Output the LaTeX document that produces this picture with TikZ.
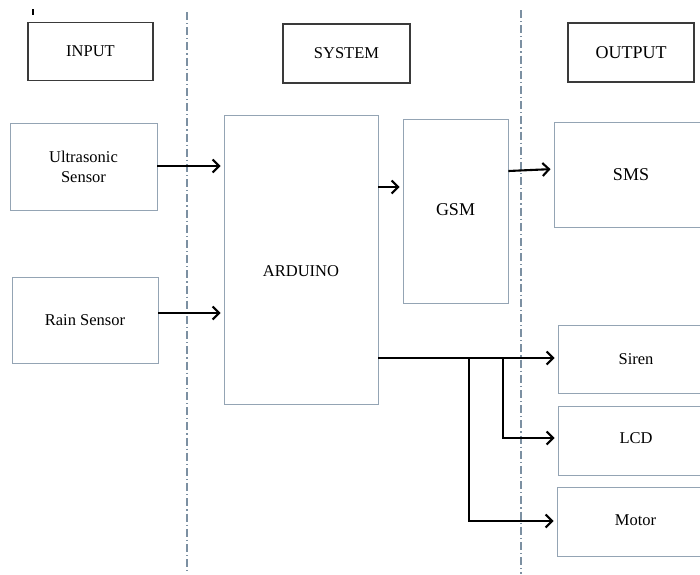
\documentclass[tikz,border=0pt]{standalone}
\usepackage{fontspec}
\setmainfont{Liberation Serif}
\usetikzlibrary{arrows.meta}
\definecolor{boxblue}{HTML}{94A4B4}
\definecolor{boxdark}{HTML}{3A3A3A}
\definecolor{sepcol}{HTML}{7C90A2}
\tikzset{
  hdrbox/.style={draw=boxdark, line width=1.2pt, inner sep=0pt, align=center, font=\fontsize{16.5}{19}\selectfont},
  blkbox/.style={draw=boxblue, line width=0.9pt, inner sep=0pt, align=center, font=\fontsize{16.5}{20}\selectfont},
  bigtext/.style={font=\fontsize{18}{20}\selectfont},
  arr/.style={line width=2.1pt, -{Straight Barb[length=6.5pt,width=13pt,line width=2.1pt]}},
  sep/.style={draw=sepcol, line width=1.2pt, dash pattern=on 8pt off 3pt on 1.2pt off 3pt}
}
\begin{document}
\begin{tikzpicture}[x=1pt,y=-1pt]
\useasboundingbox (0,0) rectangle (700,574);
\fill[white] (0,0) rectangle (700,574);
% separators
\draw[sep] (187,12) -- (187,574);
\draw[sep] (521,10) -- (521,574);
% stray mark
\draw[line width=1.4pt] (33,9) -- (33,15);
% header boxes
\node[hdrbox, minimum width=125pt, minimum height=58pt] (input) at (90.5,51.5) {INPUT};
\node[hdrbox, minimum width=127pt, minimum height=59pt] (system) at (346.5,53.5) {SYSTEM};
\node[hdrbox, bigtext, minimum width=126pt, minimum height=59pt] (output) at (631,52.5) {OUTPUT};
% blocks
\node[blkbox, minimum width=147pt, minimum height=87pt] (ultra) at (83.5,166.5) {Ultrasonic\\Sensor};
\node[blkbox, minimum width=146pt, minimum height=86pt] (rain) at (85,320) {Rain Sensor};
\node[blkbox, minimum width=154pt, minimum height=289pt,
  label={[font=\fontsize{16.5}{19}\selectfont, yshift=-12pt]center:ARDUINO}] (arduino) at (301,259.5) {};
\node[blkbox, bigtext, minimum width=105pt, minimum height=184pt] (gsm) at (455.5,211) {\raisebox{3pt}{GSM}};
\node[blkbox, bigtext, minimum width=154pt, minimum height=105pt] (sms) at (631,174.5) {\raisebox{-4pt}{SMS}};
\node[blkbox, minimum width=156pt, minimum height=68pt] (siren) at (636,359) {Siren};
\node[blkbox, minimum width=156pt, minimum height=69pt] (lcd) at (636,440.5) {\raisebox{4pt}{LCD}};
\node[blkbox, minimum width=157pt, minimum height=69pt] (motor) at (635.5,521.5) {\raisebox{2pt}{Motor}};
% junction points
\coordinate (j1) at (469,358);
\coordinate (j2) at (503,358);
% connectors
\draw[arr, shorten >=3pt] (ultra.east |- 0,166) -- (arduino.west |- 0,166);
\draw[arr, shorten >=3pt] (rain.east |- 0,313) -- (arduino.west |- 0,313);
\draw[arr, shorten >=3pt] (arduino.east |- 0,187) -- (gsm.west |- 0,187);
\draw[arr, shorten >=3pt] (gsm.east |- 0,171) -- (sms.west |- 0,169);
\draw[arr, shorten >=3pt] (arduino.east |- 0,358) -- (siren.west |- 0,358);
\draw[arr, shorten >=3pt] (j2) |- (lcd.west |- 0,438);
\draw[arr, shorten >=3pt] (j1) |- (motor.west |- 0,521);
\end{tikzpicture}
\end{document}
